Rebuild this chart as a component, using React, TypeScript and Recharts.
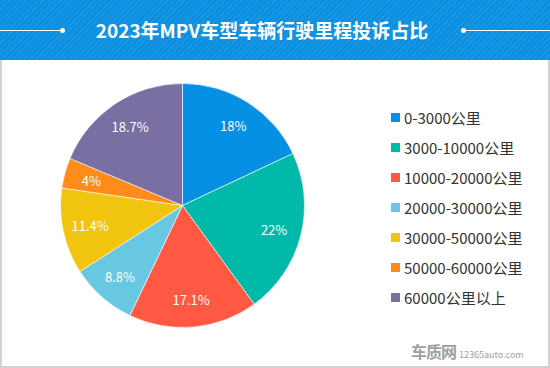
import React from "react";
import { PieChart, Pie, Cell, Legend } from "recharts";

const categories = [
  "0-3000公里",
  "3000-10000公里",
  "10000-20000公里",
  "20000-30000公里",
  "30000-50000公里",
  "50000-60000公里",
  "60000公里以上",
];
const shares = [18, 22, 17.1, 8.8, 11.4, 4, 18.7];
const COLORS = ["#0590E4", "#00B9A9", "#FF5843", "#68C8E2", "#F0C40F", "#FF8C1A", "#7A6FA2"];

const data = categories.map((name, i) => ({ name, value: shares[i] }));

const FONT = '"Noto Sans CJK SC", "Noto Sans", sans-serif';
const RADIAN = Math.PI / 180;

const renderLabel = (props: any) => {
  const { cx, cy, midAngle, outerRadius, value } = props;
  const r = outerRadius * 0.775;
  const x = cx + r * Math.cos(-midAngle * RADIAN);
  const y = cy + r * Math.sin(-midAngle * RADIAN);
  return (
    <text
      x={x}
      y={y}
      fill="#fff"
      fontSize={13}
      fontFamily={FONT}
      textAnchor="middle"
      dominantBaseline="central"
    >
      {`${value}%`}
    </text>
  );
};

const renderLegend = () => (
  <div style={{ fontFamily: FONT }}>
    {data.map((d, i) => (
      <div
        key={d.name}
        style={{ display: "flex", alignItems: "center", height: 30 }}
      >
        <span
          style={{
            display: "inline-block",
            width: 9,
            height: 9,
            background: COLORS[i],
            marginRight: 4,
          }}
        />
        <span style={{ fontSize: 15, color: "#333" }}>{d.name}</span>
      </div>
    ))}
  </div>
);

export default function App() {
  return (
    <div
      style={{
        position: "absolute",
        left: 0,
        top: 0,
        width: 550,
        height: 368,
        background: "#fff",
        overflow: "hidden",
      }}
    >
      <div
        style={{
          position: "absolute",
          left: 0,
          top: 0,
          width: 550,
          height: 60,
          background:
            "repeating-linear-gradient(135deg, #0A8EDF 0px, #0A8EDF 2px, #1896E3 2px, #1896E3 4px)",
        }}
      >
        <div style={{ position: "absolute", left: 0, top: 30, width: 62, height: 1, background: "#fff" }} />
        <div style={{ position: "absolute", left: 60, top: 28, width: 5, height: 5, borderRadius: 3, background: "#fff" }} />
        <div style={{ position: "absolute", left: 461, top: 28, width: 5, height: 5, borderRadius: 3, background: "#fff" }} />
        <div style={{ position: "absolute", left: 463, top: 30, width: 87, height: 1, background: "#fff" }} />
        <div
          style={{
            position: "absolute",
            left: 0,
            top: 0,
            width: 524,
            height: 60,
            lineHeight: "60px",
            textAlign: "center",
            color: "#fff",
            fontFamily: FONT,
            fontWeight: 700,
            fontSize: 19,
          }}
        >
          2023年MPV车型车辆行驶里程投诉占比
        </div>
      </div>
      <div
        style={{
          position: "absolute",
          left: 0,
          top: 60,
          width: 550,
          height: 308,
          borderLeft: "2px solid #d2d2d2",
          borderRight: "2px solid #d2d2d2",
          borderBottom: "2px solid #d2d2d2",
          boxSizing: "border-box",
        }}
      />
      <div style={{ position: "absolute", left: 0, top: 0 }}>
        <PieChart width={550} height={368} margin={{ top: 0, right: 0, bottom: 0, left: 0 }}>
          <Pie
            data={data}
            dataKey="value"
            nameKey="name"
            cx={182.5}
            cy={205.5}
            outerRadius={122}
            startAngle={90}
            endAngle={-270}
            stroke="#fff"
            strokeWidth={0.6}
            labelLine={false}
            label={renderLabel}
            isAnimationActive={false}
          >
            {data.map((d, i) => (
              <Cell key={`cell-${i}`} fill={COLORS[i]} />
            ))}
          </Pie>
          <Legend
            layout="vertical"
            content={renderLegend}
            wrapperStyle={{ position: "absolute", left: 391, top: 102, width: 160 }}
          />
        </PieChart>
      </div>
      <div
        style={{
          position: "absolute",
          left: 411,
          top: 339,
          color: "#a0a0a0",
          fontFamily: FONT,
          whiteSpace: "nowrap",
        }}
      >
        <span style={{ fontSize: 16, fontWeight: 700, letterSpacing: -1 }}>车质网</span>
        <span style={{ fontSize: 9, marginLeft: 3 }}>12365auto.com</span>
      </div>
    </div>
  );
}
